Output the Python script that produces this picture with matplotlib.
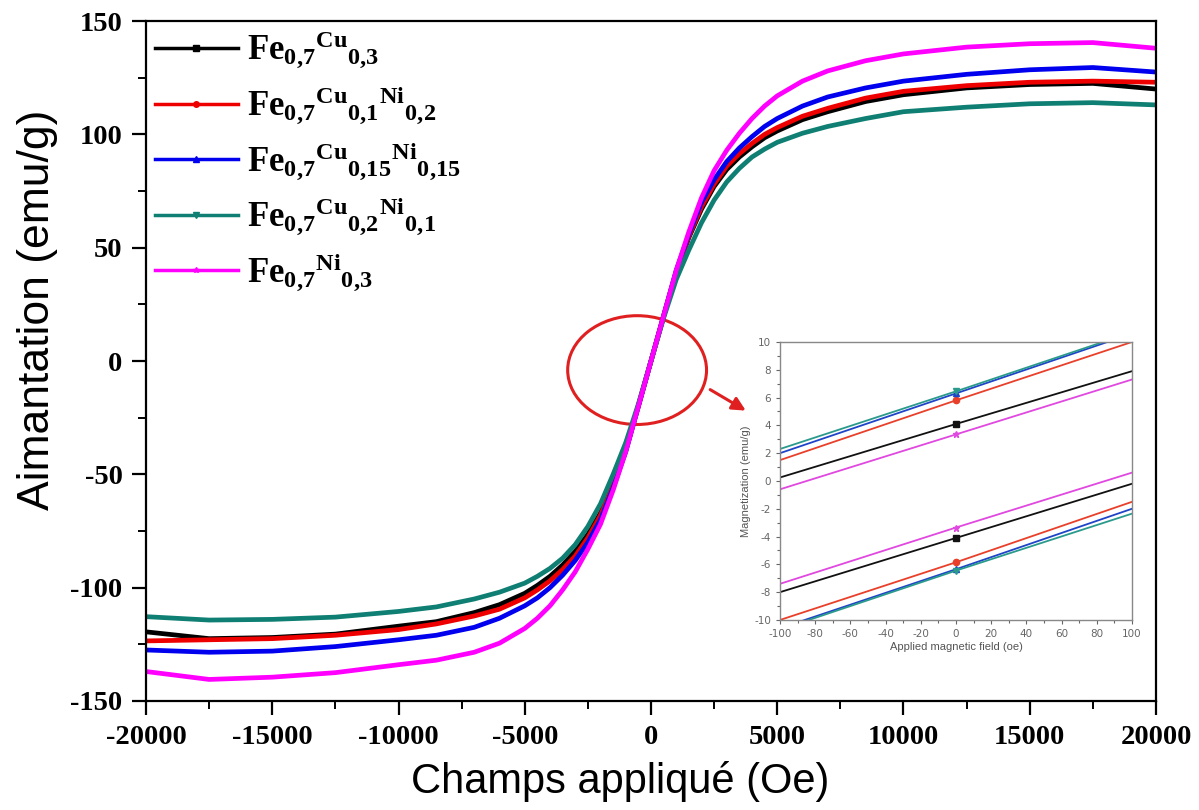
import matplotlib
matplotlib.use("Agg")
import matplotlib.pyplot as plt
from matplotlib.patches import Ellipse
from matplotlib.lines import Line2D
from matplotlib.ticker import MultipleLocator
from matplotlib import font_manager

# ---------------- data ----------------
H = [-20000, -17500, -15000, -12500, -10000, -8500, -7000, -6000, -5000, -4500, -4000,
     -3500, -3000, -2500, -2000, -1500, -1000, -500, 0, 500, 1000, 1500, 2000, 2500,
     3000, 3500, 4000, 4500, 5000, 6000, 7000, 8500, 10000, 12500, 15000, 17500, 20000]

M_fe7cu3 = [-119.5, -122.5, -122, -120.5, -117, -115, -111, -107.5, -102.5, -99, -95,
            -90, -84, -76.5, -67, -54.5, -39, -19.5, 0, 19.5, 39, 54.5, 67, 77,
            84.5, 90, 94.5, 98.5, 101.5, 106.5, 110, 114.5, 117.5, 120.5, 122, 122.5, 120]
M_fe7cu1ni2 = [-123.5, -123, -122.5, -121, -118.5, -116, -112.5, -109.5, -104.5, -101, -97,
               -92, -86, -78, -68, -55, -39.5, -20, 0, 20, 39.5, 55, 68, 78,
               86, 91.5, 96, 100, 103, 108, 111.5, 116, 119, 121.5, 123, 123.5, 123]
M_fe7cu15ni15 = [-127.5, -128.5, -128, -126, -123, -121, -117.5, -113.5, -108, -104.5, -100,
                 -94.5, -88, -80, -70, -56, -40, -20, 0, 20, 40, 56, 70, 80,
                 88, 94, 99, 103.5, 107, 112.5, 116.5, 120.5, 123.5, 126.5, 128.5, 129.5, 127.5]
M_fe7cu2ni1 = [-112.8, -114.3, -114, -113, -110.5, -108.5, -105, -102, -98, -95, -91.5,
               -87, -81, -73, -63, -50, -36, -19, 0, 19, 36, 49, 61, 71,
               79, 85, 90, 93.5, 96.5, 100.5, 103.5, 107, 110, 112, 113.5, 114, 113]
M_fe7ni3 = [-137, -140.5, -139.5, -137.5, -134, -132, -128.5, -124.5, -118, -113.5, -108,
            -101, -93, -83, -72, -57, -40, -20, 0, 20, 40, 57, 72, 84,
            93, 100.5, 107, 112.5, 117, 123.5, 128, 132.5, 135.5, 138.5, 140, 140.5, 138]

labels = [r'$\mathbf{Fe_{0{,}7}{}^{Cu}{}_{0{,}3}}$',
          r'$\mathbf{Fe_{0{,}7}{}^{Cu}{}_{0{,}1}{}^{Ni}{}_{0{,}2}}$',
          r'$\mathbf{Fe_{0{,}7}{}^{Cu}{}_{0{,}15}{}^{Ni}{}_{0{,}15}}$',
          r'$\mathbf{Fe_{0{,}7}{}^{Cu}{}_{0{,}2}{}^{Ni}{}_{0{,}1}}$',
          r'$\mathbf{Fe_{0{,}7}{}^{Ni}{}_{0{,}3}}$']

# inset (zoom near origin): field points and the two branches
H_in = [-100, 0, 100]
up_fe7cu3 = [0.25, 4.1, 7.9]
dn_fe7cu3 = [-8.0, -4.1, -0.2]
up_fe7cu1ni2 = [1.5, 5.8, 10.0]
dn_fe7cu1ni2 = [-10.0, -5.85, -1.5]
up_fe7cu15ni15 = [2.0, 6.3, 10.6]
dn_fe7cu15ni15 = [-10.6, -6.35, -2.0]
up_fe7cu2ni1 = [2.3, 6.45, 10.7]
dn_fe7cu2ni1 = [-10.7, -6.45, -2.35]
up_fe7ni3 = [-0.6, 3.35, 7.3]
dn_fe7ni3 = [-7.4, -3.35, 0.6]

# ---------------- styles ----------------
main_colors = ['#000000', '#ee0000', '#0000ee', '#0e7f72', '#ff00ff']
inset_colors = ['#111111', '#e8402a', '#1f44c8', '#2a9a8c', '#e048e0']
markers = ['s', 'o', '^', 'v', '*']

avail = {f.name for f in font_manager.fontManager.ttflist}
narrow = 'Liberation Sans Narrow' if 'Liberation Sans Narrow' in avail else 'Liberation Sans'

plt.rcParams['axes.unicode_minus'] = False
plt.rcParams['mathtext.fontset'] = 'custom'
plt.rcParams['mathtext.rm'] = 'Liberation Serif'
plt.rcParams['mathtext.bf'] = 'Liberation Serif:bold'
plt.rcParams['mathtext.it'] = 'Liberation Serif:italic'

fig = plt.figure(figsize=(11.99, 8.10), dpi=100)
ax = fig.add_axes([0.1218, 0.1346, 0.8423, 0.8394])

series = [M_fe7cu3, M_fe7cu1ni2, M_fe7cu15ni15, M_fe7cu2ni1, M_fe7ni3]
for M, c in zip(series, main_colors):
    ax.plot(H, M, color=c, lw=3.4, solid_joinstyle='round')

ax.set_xlim(-20000, 20000)
ax.set_ylim(-150, 150)
ax.xaxis.set_major_locator(MultipleLocator(5000))
ax.xaxis.set_minor_locator(MultipleLocator(2500))
ax.yaxis.set_major_locator(MultipleLocator(50))
ax.yaxis.set_minor_locator(MultipleLocator(25))
ax.tick_params(which='major', direction='out', length=10, width=1.6,
               top=False, right=False, pad=7)
ax.tick_params(which='minor', direction='out', length=6, width=1.4,
               top=False, right=False)
for lab in ax.get_xticklabels() + ax.get_yticklabels():
    lab.set_fontfamily('Liberation Serif')
    lab.set_fontweight('bold')
    lab.set_fontsize(20.5)
for s in ax.spines.values():
    s.set_linewidth(1.6)

ax.set_xlabel('Champs appliqué (Oe)', fontsize=30, family=narrow)
ax.set_ylabel('Aimantation (emu/g)', fontsize=32, family=narrow)
ax.xaxis.set_label_coords(0.469, -0.088)
ax.yaxis.set_label_coords(-0.087, 0.575)

handles = [Line2D([], [], color=c, lw=2.5, marker=m, ms=4)
           for c, m in zip(main_colors, markers)]
leg = ax.legend(handles, labels, loc='upper left', frameon=False, fontsize=25,
                handlelength=2.4, handletextpad=0.25, labelspacing=0.38,
                borderaxespad=0.0, borderpad=0.25, bbox_to_anchor=(0.0, 1.0))

# red ellipse and arrow
ax.add_patch(Ellipse((-550, -4), 5500, 48, fill=False, edgecolor='#e02020', lw=2.2))
ax.annotate('', xy=(3850, -22.5), xytext=(2250, -12),
            arrowprops=dict(arrowstyle='-|>,head_length=0.8,head_width=0.4',
                            color='#e02020', lw=2.2))

# ---------------- inset ----------------
axi = fig.add_axes([0.6505, 0.2346, 0.2936, 0.3432])
ups = [up_fe7cu3, up_fe7cu1ni2, up_fe7cu15ni15, up_fe7cu2ni1, up_fe7ni3]
dns = [dn_fe7cu3, dn_fe7cu1ni2, dn_fe7cu15ni15, dn_fe7cu2ni1, dn_fe7ni3]
for u, d, c, m in zip(ups, dns, inset_colors, markers):
    for br in (u, d):
        axi.plot(H_in, br, color=c, lw=1.3, marker=m, ms=4.5, markevery=[1])
axi.set_xlim(-100, 100)
axi.set_ylim(-10, 10)
axi.xaxis.set_major_locator(MultipleLocator(20))
axi.xaxis.set_minor_locator(MultipleLocator(10))
axi.yaxis.set_major_locator(MultipleLocator(2))
axi.yaxis.set_minor_locator(MultipleLocator(1))
axi.tick_params(which='both', direction='out', colors='#666666', labelsize=7.5,
                top=False, right=False, width=0.8)
axi.tick_params(which='major', length=3)
axi.tick_params(which='minor', length=2)
for s in axi.spines.values():
    s.set_color('#888888')
    s.set_linewidth(1.0)
axi.set_xlabel('Applied magnetic field (oe)', fontsize=8, color='#555555',
               family='Liberation Sans', labelpad=2)
axi.set_ylabel('Magnetization (emu/g)', fontsize=8, color='#555555',
               family='Liberation Sans', labelpad=2)

fig.savefig('out.png', dpi=100)
